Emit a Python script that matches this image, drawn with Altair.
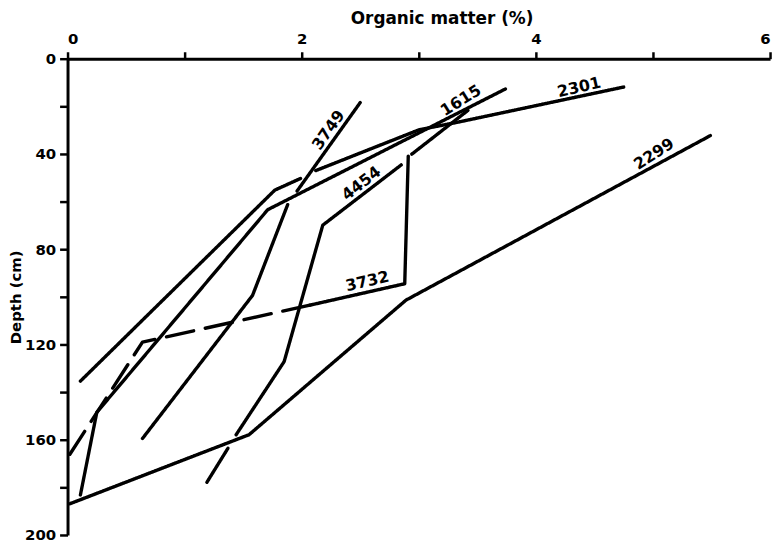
import altair as alt
import pandas as pd

# ---- profile data (organic matter %, depth cm), split where the drawing breaks ----
seg_profile = ["2299", "2301", "2301", "1615", "3749", "3749", "4454", "4454", "3732", "3732", "3732"]
seg_style = ["solid", "solid", "solid", "solid", "solid", "solid", "solid", "solid", "solid", "solid", "dashed"]
seg_om = [
    [5.49, 2.89, 1.55, 0.02],
    [4.75, 3.34, 3.00, 2.12],
    [1.99, 1.77, 0.11],
    [3.74, 1.71, 0.25, 0.11],
    [2.50, 1.96],
    [1.88, 1.58, 0.64],
    [2.85, 2.18, 1.85, 1.44],
    [1.37, 1.19],
    [3.42, 2.94],
    [2.91, 2.88, 2.07],
    [2.07, 0.64, 0.02],
]
seg_depth = [
    [32.3, 101.4, 157.9, 186.9],
    [11.9, 26.6, 29.9, 47.0],
    [50.3, 55.2, 135.4],
    [12.7, 63.4, 148.5, 183.2],
    [18.4, 55.6],
    [61.3, 99.4, 159.5],
    [44.6, 69.9, 127.2, 157.9],
    [163.6, 177.9],
    [21.7, 40.1],
    [40.9, 94.5, 103.5],
    [103.5, 119.0, 166.1],
]

# ---- profile labels ----
label_text = ["3749", "1615", "2301", "2299", "4454", "3732"]
label_om = [2.23, 3.36, 4.37, 5.01, 2.51, 2.56]
label_depth = [30.0, 17.6, 12.1, 40.1, 52.4, 93.5]
label_angle = [305, 328, 347, 327, 322, 347]

x_ticks = [0, 1, 2, 3, 4, 5, 6]
y_ticks = [0, 20, 40, 60, 80, 100, 120, 140, 160, 180, 200]

rows = []
for i, (p, st, oms, deps) in enumerate(zip(seg_profile, seg_style, seg_om, seg_depth)):
    for k, (o, d) in enumerate(zip(oms, deps)):
        rows.append({"profile": p, "seg": i, "style": st, "ord": k, "om": o, "depth": d})
df = pd.DataFrame(rows)

lab = pd.DataFrame({"name": label_text, "om": label_om, "depth": label_depth, "ang": label_angle})

FONT = "DejaVu Sans"

x_enc = alt.X(
    "om:Q",
    scale=alt.Scale(domain=[0, 6], nice=False, zero=False),
    axis=alt.Axis(
        orient="top",
        values=x_ticks,
        labelExpr="datum.value % 2 == 0 ? datum.label : ''",
        title="Organic matter (%)",
        titleX=377,
        titleFontSize=17,
        titlePadding=4,
        labelPadding=5,
        labelFontSize=15,
        tickSize=7,
    ),
)
y_enc = alt.Y(
    "depth:Q",
    scale=alt.Scale(domain=[0, 200], reverse=True, nice=False, zero=False),
    axis=alt.Axis(
        values=y_ticks,
        labelExpr="datum.value % 40 == 0 ? datum.label : ''",
        title="Depth (cm)",
        titleFontSize=15,
        titlePadding=1,
        labelPadding=4,
        labelFontSize=15,
        tickSize=8,
    ),
)

lines = alt.Chart(df).mark_line(
    color="black", strokeWidth=3.4, strokeCap="round", strokeJoin="round"
).encode(
    x=x_enc,
    y=y_enc,
    detail="seg:N",
    order="ord:Q",
    strokeDash=alt.StrokeDash(
        "style:N",
        scale=alt.Scale(domain=["solid", "dashed"], range=[[1, 0], [28, 12]]),
        legend=None,
    ),
)

texts = alt.Chart(lab).mark_text(
    font=FONT, fontSize=16, fontWeight="bold", color="black", align="center", baseline="middle"
).encode(
    x=x_enc,
    y=y_enc,
    text="name:N",
    angle=alt.Angle("ang:Q", scale=None),
)

chart = (
    alt.layer(lines, texts)
    .properties(
        width=708,
        height=480,
        padding={"left": 60, "top": 49, "right": 6, "bottom": 7},
        autosize=alt.AutoSizeParams(type="none"),
        background="white",
    )
    .configure_view(stroke=None)
    .configure_axis(
        domainColor="black",
        domainWidth=3,
        tickColor="black",
        tickWidth=2.5,
        grid=False,
        labelFont=FONT,
        labelFontWeight="bold",
        labelColor="black",
        titleFont=FONT,
        titleFontWeight="bold",
        titleColor="black",
    )
)

chart.save("out.html", embed_options={"renderer": "svg", "actions": False})
